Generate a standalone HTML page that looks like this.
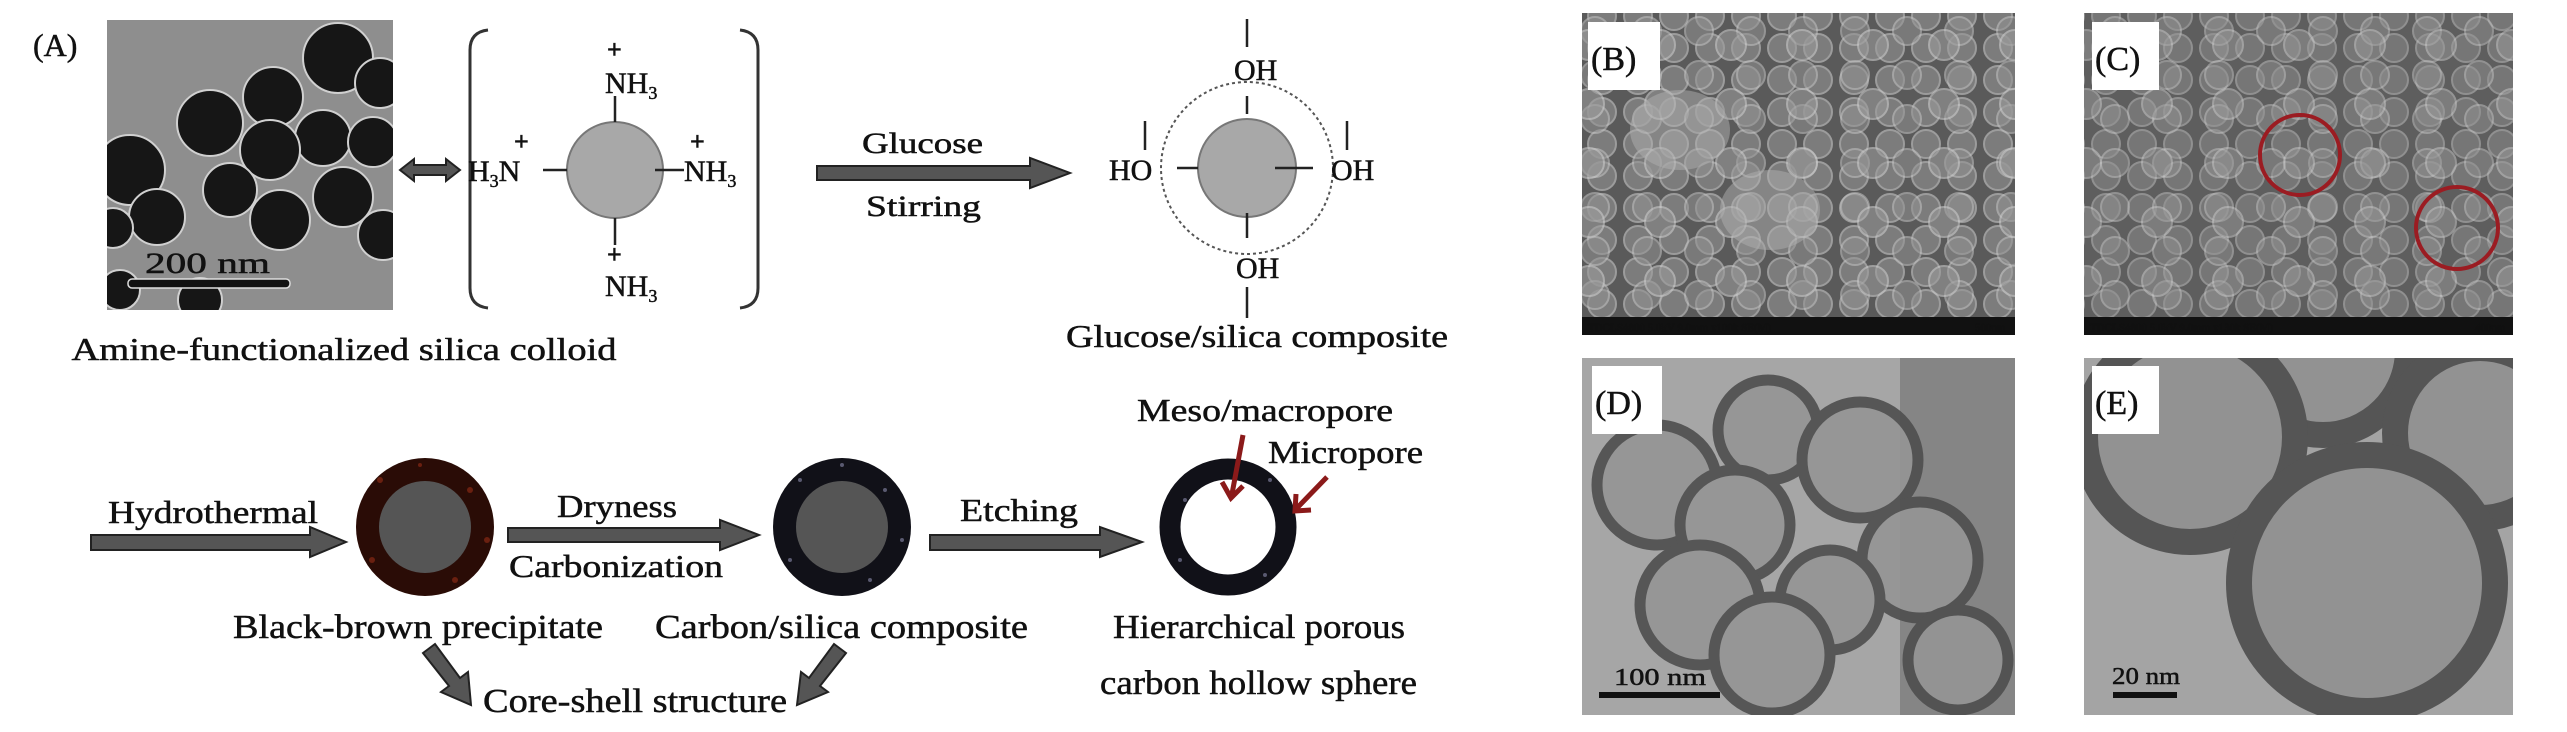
<!DOCTYPE html>
<html><head><meta charset="utf-8"><style>
html,body{margin:0;padding:0;background:#fff}
svg{display:block}
text{font-family:"Liberation Serif",serif;fill:#111;stroke:#111;stroke-width:0.5}
</style></head><body>
<svg width="2567" height="732" viewBox="0 0 2567 732" xmlns="http://www.w3.org/2000/svg">
<defs>
<pattern id="sem1" width="36" height="32" patternUnits="userSpaceOnUse">
<circle cx="18" cy="16" r="14" fill="#8a8a8a" stroke="#b8b8b8" stroke-width="2"/>
</pattern>
<pattern id="sem2" x="17" y="15" width="52" height="44" patternUnits="userSpaceOnUse">
<circle cx="18" cy="16" r="14" fill="#929292" stroke="#c4c4c4" stroke-width="2"/>
</pattern>
<pattern id="sem3" x="7" y="25" width="71" height="59" patternUnits="userSpaceOnUse">
<circle cx="20" cy="20" r="15" fill="#9a9a9a" stroke="#cacaca" stroke-width="2"/>
</pattern>
<clipPath id="cA"><rect x="107" y="20" width="286" height="290"/></clipPath>
<clipPath id="cB"><rect x="1582" y="13" width="433" height="322"/></clipPath>
<clipPath id="cC"><rect x="2084" y="13" width="429" height="322"/></clipPath>
<clipPath id="cD"><rect x="1582" y="358" width="433" height="357"/></clipPath>
<clipPath id="cE"><rect x="2084" y="358" width="429" height="357"/></clipPath>
</defs>

<text x="33" y="56" font-size="32">(A)</text>

<g clip-path="url(#cA)">
<rect x="107" y="20" width="286" height="290" fill="#8e8e8e"/>
<g fill="#161616" stroke="#d0d0d0" stroke-width="2">
<circle cx="338" cy="58" r="35"/><circle cx="273" cy="97" r="30"/><circle cx="210" cy="123" r="33"/>
<circle cx="323" cy="138" r="28"/><circle cx="373" cy="142" r="25"/><circle cx="380" cy="83" r="25"/>
<circle cx="270" cy="150" r="30"/><circle cx="130" cy="170" r="35"/><circle cx="157" cy="217" r="28"/>
<circle cx="230" cy="190" r="27"/><circle cx="280" cy="220" r="30"/><circle cx="343" cy="197" r="30"/>
<circle cx="383" cy="235" r="25"/><circle cx="200" cy="300" r="22"/><circle cx="113" cy="228" r="20"/>
<circle cx="120" cy="290" r="20"/>
</g>
<rect x="128" y="279" width="162" height="9" rx="4" fill="#111" stroke="#ddd" stroke-width="1.5"/>
<text x="145" y="273" font-size="30" textLength="125" lengthAdjust="spacingAndGlyphs" fill="#222" stroke="#ddd" stroke-width="0.8">200 nm</text>
</g>

<path d="M400 170 L414 159 L414 165 L446 165 L446 159 L460 170 L446 181 L446 175 L414 175 L414 181 Z" fill="#555" stroke="#222" stroke-width="2"/>

<path d="M488 30 Q470 32 470 50 L470 288 Q470 306 488 308" fill="none" stroke="#333" stroke-width="3"/>
<path d="M740 30 Q758 32 758 50 L758 288 Q758 306 740 308" fill="none" stroke="#333" stroke-width="3"/>

<circle cx="615" cy="170" r="48" fill="#a8a8a8" stroke="#777" stroke-width="2"/>
<g stroke="#222" stroke-width="2.5">
<line x1="615" y1="96" x2="615" y2="122"/><line x1="615" y1="218" x2="615" y2="245"/>
<line x1="543" y1="170" x2="567" y2="170"/><line x1="655" y1="170" x2="684" y2="170"/>
</g>
<g font-size="30">
<text x="605" y="93">NH<tspan font-size="18" dy="6">3</tspan></text>
<text x="605" y="296">NH<tspan font-size="18" dy="6">3</tspan></text>
<text x="684" y="181">NH<tspan font-size="18" dy="6">3</tspan></text>
<text x="468" y="181">H<tspan font-size="18" dy="6">3</tspan><tspan dy="-6">N</tspan></text>
</g>
<g font-size="26" font-weight="bold">
<text x="607" y="58">+</text><text x="607" y="263">+</text><text x="514" y="150">+</text><text x="690" y="150">+</text>
</g>

<text x="344" y="360" font-size="32" text-anchor="middle" textLength="545" lengthAdjust="spacingAndGlyphs">Amine-functionalized silica colloid</text>

<path d="M817 166 L1030 166 L1030 158 L1070 173 L1030 188 L1030 180 L817 180 Z" fill="#555" stroke="#222" stroke-width="2"/>
<text x="862" y="153" font-size="30" textLength="121" lengthAdjust="spacingAndGlyphs">Glucose</text>
<text x="866" y="216" font-size="30" textLength="115" lengthAdjust="spacingAndGlyphs">Stirring</text>

<circle cx="1247" cy="168" r="86" fill="none" stroke="#555" stroke-width="2" stroke-dasharray="3 3"/>
<circle cx="1247" cy="168" r="49" fill="#a8a8a8" stroke="#777" stroke-width="2"/>
<g stroke="#222" stroke-width="2.5">
<line x1="1247" y1="19" x2="1247" y2="47"/><line x1="1247" y1="96" x2="1247" y2="114"/>
<line x1="1247" y1="213" x2="1247" y2="238"/><line x1="1247" y1="287" x2="1247" y2="318"/>
<line x1="1177" y1="168" x2="1198" y2="168"/><line x1="1275" y1="168" x2="1313" y2="168"/>
<line x1="1145" y1="121" x2="1145" y2="150"/><line x1="1347" y1="121" x2="1347" y2="150"/>
</g>
<g font-size="30">
<text x="1234" y="80">OH</text><text x="1236" y="278">OH</text>
<text x="1109" y="180">HO</text><text x="1331" y="180">OH</text>
</g>
<text x="1066" y="347" font-size="32" textLength="382" lengthAdjust="spacingAndGlyphs">Glucose/silica composite</text>

<path d="M91 535 L310 535 L310 527 L346 542 L310 557 L310 550 L91 550 Z" fill="#555" stroke="#222" stroke-width="2"/>
<text x="108" y="523" font-size="32" textLength="210" lengthAdjust="spacingAndGlyphs">Hydrothermal</text>

<circle cx="425" cy="527" r="69" fill="#2a0c06"/>
<g fill="#6a2010"><circle cx="380" cy="480" r="3"/><circle cx="470" cy="490" r="3"/><circle cx="372" cy="560" r="3"/><circle cx="455" cy="580" r="3"/><circle cx="420" cy="465" r="2"/><circle cx="487" cy="540" r="3"/></g>
<circle cx="425" cy="527" r="46" fill="#555"/>

<path d="M508 528 L720 528 L720 520 L759 535 L720 550 L720 542 L508 542 Z" fill="#555" stroke="#222" stroke-width="2"/>
<text x="557" y="517" font-size="32" textLength="120" lengthAdjust="spacingAndGlyphs">Dryness</text>
<text x="509" y="577" font-size="32" textLength="214" lengthAdjust="spacingAndGlyphs">Carbonization</text>

<circle cx="842" cy="527" r="69" fill="#111118"/>
<g fill="#5a5a70"><circle cx="800" cy="480" r="2"/><circle cx="885" cy="490" r="2"/><circle cx="790" cy="560" r="2"/><circle cx="870" cy="580" r="2"/><circle cx="842" cy="465" r="2"/><circle cx="902" cy="540" r="2"/></g>
<circle cx="842" cy="527" r="46" fill="#555"/>

<path d="M930 535 L1100 535 L1100 527 L1142 542 L1100 557 L1100 550 L930 550 Z" fill="#555" stroke="#222" stroke-width="2"/>
<text x="960" y="521" font-size="32" textLength="118" lengthAdjust="spacingAndGlyphs">Etching</text>

<circle cx="1228" cy="527" r="58" fill="none" stroke="#111118" stroke-width="21"/>
<g fill="#5a5a70"><circle cx="1185" cy="500" r="2"/><circle cx="1270" cy="480" r="2"/><circle cx="1180" cy="560" r="2"/><circle cx="1265" cy="575" r="2"/></g>
<g stroke="#8b1a1a" stroke-width="5" fill="none">
<line x1="1243" y1="435" x2="1232" y2="494"/><path d="M1222 482 L1231 498 L1243 486"/>
<line x1="1327" y1="477" x2="1297" y2="508"/><path d="M1296 494 L1295 511 L1311 510"/>
</g>
<text x="1137" y="421" font-size="32" textLength="256" lengthAdjust="spacingAndGlyphs">Meso/macropore</text>
<text x="1268" y="463" font-size="32" textLength="155" lengthAdjust="spacingAndGlyphs">Micropore</text>

<text x="233" y="638" font-size="34" textLength="370" lengthAdjust="spacingAndGlyphs">Black-brown precipitate</text>
<text x="655" y="638" font-size="34" textLength="373" lengthAdjust="spacingAndGlyphs">Carbon/silica composite</text>
<text x="1113" y="638" font-size="34" textLength="292" lengthAdjust="spacingAndGlyphs">Hierarchical porous</text>
<text x="1100" y="694" font-size="34" textLength="317" lengthAdjust="spacingAndGlyphs">carbon hollow sphere</text>
<text x="483" y="712" font-size="34" textLength="304" lengthAdjust="spacingAndGlyphs">Core-shell structure</text>

<path d="M423 653 L435 644 L460 678 L468 672 L471 705 L441 692 L449 686 Z" fill="#555" stroke="#222" stroke-width="2"/>
<path d="M846 653 L834 644 L809 678 L801 672 L797 705 L828 692 L820 686 Z" fill="#555" stroke="#222" stroke-width="2"/>

<g clip-path="url(#cB)">
<rect x="1582" y="13" width="433" height="322" fill="#5a5a5a"/>
<rect x="1582" y="13" width="433" height="322" fill="url(#sem1)" opacity="0.7"/>
<rect x="1582" y="13" width="433" height="322" fill="url(#sem2)" opacity="0.55"/>
<rect x="1582" y="13" width="433" height="322" fill="url(#sem3)" opacity="0.6"/>
<ellipse cx="1680" cy="130" rx="50" ry="40" fill="#b0b0b0" opacity="0.5"/>
<ellipse cx="1770" cy="210" rx="50" ry="40" fill="#b0b0b0" opacity="0.5"/>
<rect x="1582" y="317" width="433" height="18" fill="#111"/>
<text x="1588" y="331" font-size="11" font-family="Liberation Sans" fill="#888" stroke="none">TDCLS4800 5.0kV 9.0mm x100k SE(M)</text>
<text x="1975" y="331" font-size="11" font-family="Liberation Sans" fill="#888" stroke="none">500nm</text>
<rect x="1588" y="22" width="72" height="68" fill="#fff"/>
<text x="1591" y="70" font-size="34">(B)</text>
</g>

<g clip-path="url(#cC)">
<rect x="2084" y="13" width="429" height="322" fill="#5e5e5e"/>
<rect x="2084" y="13" width="429" height="322" fill="url(#sem1)" opacity="0.55"/>
<rect x="2084" y="13" width="429" height="322" fill="url(#sem2)" opacity="0.5"/>
<rect x="2084" y="13" width="429" height="322" fill="url(#sem3)" opacity="0.5"/>
<circle cx="2300" cy="155" r="40" fill="none" stroke="#9b1c22" stroke-width="4"/>
<circle cx="2457" cy="228" r="41" fill="none" stroke="#9b1c22" stroke-width="4"/>
<rect x="2084" y="317" width="429" height="18" fill="#111"/>
<text x="2090" y="331" font-size="11" font-family="Liberation Sans" fill="#888" stroke="none">TDCLS4800 5.0kV 9.0mm x130k SE(M)</text>
<text x="2475" y="331" font-size="11" font-family="Liberation Sans" fill="#888" stroke="none">400nm</text>
<rect x="2092" y="22" width="67" height="68" fill="#fff"/>
<text x="2095" y="70" font-size="34">(C)</text>
</g>

<g clip-path="url(#cD)">
<rect x="1582" y="358" width="433" height="357" fill="#a6a6a6"/>
<rect x="1900" y="358" width="115" height="357" fill="#707070" opacity="0.6"/>
<g fill="#959595" stroke="#4e4e4e" stroke-width="11" opacity="0.9">
<circle cx="1657" cy="485" r="60"/><circle cx="1768" cy="430" r="50"/><circle cx="1860" cy="460" r="58"/>
<circle cx="1735" cy="525" r="55"/><circle cx="1700" cy="605" r="60"/><circle cx="1920" cy="560" r="58"/>
<circle cx="1830" cy="600" r="50"/><circle cx="1772" cy="655" r="58"/><circle cx="1958" cy="660" r="50"/>
</g>
<rect x="1599" y="692" width="121" height="6" fill="#111"/>
<text x="1614" y="685" font-size="24" textLength="92" lengthAdjust="spacingAndGlyphs">100 nm</text>
<rect x="1592" y="366" width="70" height="68" fill="#fff"/>
<text x="1595" y="414" font-size="34">(D)</text>
</g>

<g clip-path="url(#cE)">
<rect x="2084" y="358" width="429" height="357" fill="#a4a4a4"/>
<g fill="#929292" stroke="#555" stroke-width="26">
<circle cx="2323" cy="350" r="85"/><circle cx="2480" cy="433" r="85"/>
<circle cx="2190" cy="437" r="105"/><circle cx="2367" cy="583" r="128"/>
</g>
<rect x="2113" y="692" width="64" height="6" fill="#111"/>
<text x="2112" y="684" font-size="24" textLength="68" lengthAdjust="spacingAndGlyphs">20 nm</text>
<rect x="2092" y="366" width="67" height="68" fill="#fff"/>
<text x="2095" y="414" font-size="34">(E)</text>
</g>
</svg>
</body></html>
